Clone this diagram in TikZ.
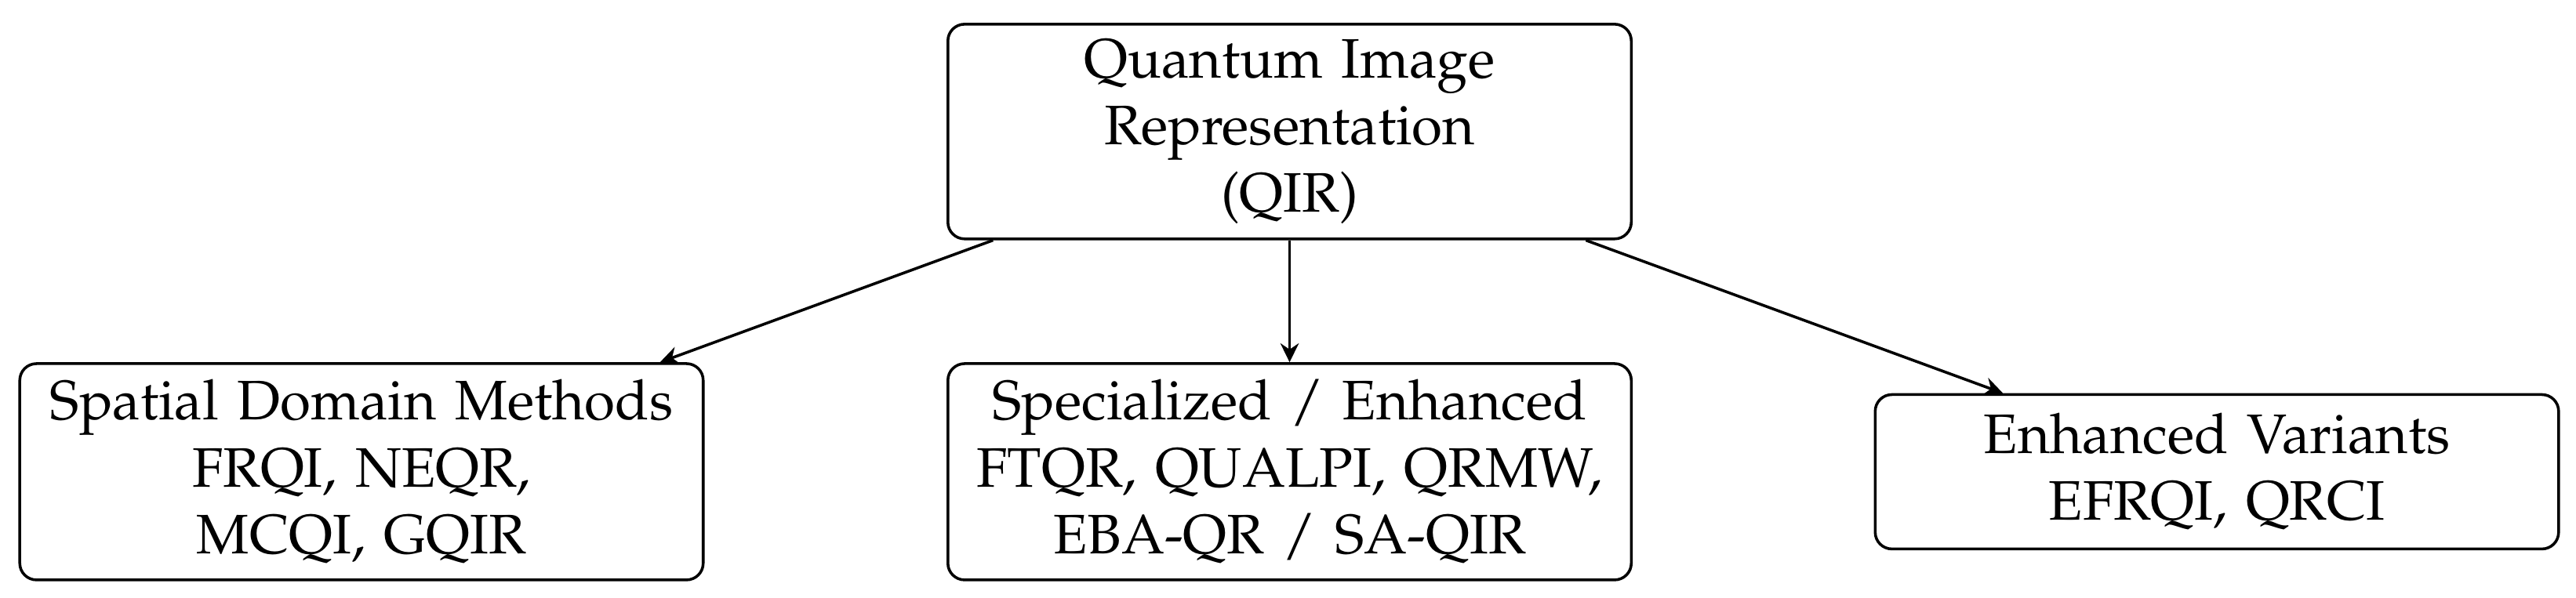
\documentclass[tikz,border=0pt]{standalone}
\usepackage[T1]{fontenc}
\usepackage{mathpazo}
\usetikzlibrary{arrows.meta,positioning}

\begin{document}
\begin{tikzpicture}[
    family/.style={draw, line width=0.5pt, rounded corners=3pt, text width=4.08cm, align=center, inner ysep=2pt},
    link/.style={->, line width=0.5pt},
    >={Stealth[length=3.4pt, width=3.3pt]}
]
\useasboundingbox (0,0) rectangle (16.262,3.777);
\node[family, minimum height=1.356cm] (qir) at (8.141, 2.946) {Quantum Image\\ Representation\\ (QIR)};

\node[family, minimum height=1.366cm] (spatial) at (2.282, 0.797) {Spatial Domain Methods\\ FRQI, NEQR,\\ MCQI, GQIR};
\node[family, minimum height=1.366cm] (special) at (8.141, 0.797) {Specialized / Enhanced\\ FTQR, QUALPI, QRMW,\\ EBA-QR / SA-QIR};
\node[family, minimum height=0.975cm] (variants) at (13.995, 0.797) {Enhanced Variants\\ EFRQI, QRCI};

\draw[link] (qir) -- (spatial);
\draw[link] (qir) -- (special);
\draw[link] (qir) -- (variants);
\end{tikzpicture}
\end{document}
